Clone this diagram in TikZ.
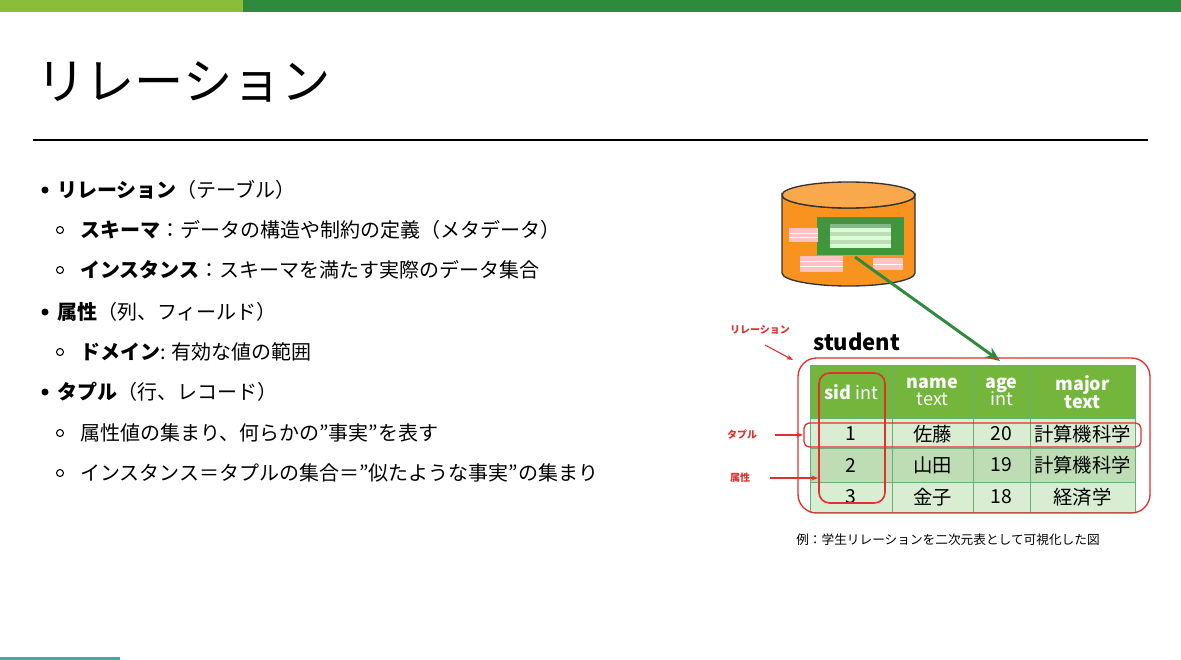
\documentclass[tikz,border=0pt]{standalone}
\usepackage{fontspec}
\setmainfont{Noto Sans CJK JP}
\usetikzlibrary{arrows.meta}
\definecolor{lg}{HTML}{8CBD3A}
\definecolor{dg}{HTML}{2E8B3E}
\definecolor{hdr}{HTML}{74B53C}
\definecolor{r1}{HTML}{D9EDD3}
\definecolor{r2}{HTML}{BEDDB4}
\definecolor{org}{HTML}{F7931E}
\definecolor{rd}{HTML}{E03030}
\begin{document}
\begin{tikzpicture}[x=0.75pt,y=-0.75pt,
  bt/.style={anchor=west,font=\fontsize{15}{17}\selectfont,inner sep=0},
  hd/.style={font=\fontsize{13.5}{14}\selectfont\bfseries,text=white,align=center},
  cl/.style={font=\fontsize{14.5}{16}\selectfont},
  rl/.style={font=\fontsize{7.5}{9}\selectfont\bfseries,text=rd},
  ra/.style={draw=rd,-{Stealth[length=5pt]},line width=0.8pt}]
\useasboundingbox (0,0) rectangle (1181,660);
\fill[lg] (0,0) rectangle (243,12);
\fill[dg] (243,0) rectangle (1181,12);
\fill[teal!70] (0,657) rectangle (120,660);
\node[anchor=west,inner sep=0,font=\fontsize{37}{40}\selectfont] (title) at (36,82) {リレーション};
\draw[line width=1.5pt] (33,140) -- (1148,140);
% bullets
\foreach \y/\t in {190/{\textbf{リレーション}（テーブル）},312/{\textbf{属性}（列、フィールド）},392/{\textbf{タプル}（行、レコード）}}{
  \fill (45,\y) circle (3.5);
  \node[bt] at (57,\y) {\t};}
\foreach \y/\t in {230/{\textbf{スキーマ}：データの構造や制約の定義（メタデータ）},270/{\textbf{インスタンス}：スキーマを満たす実際のデータ集合},352/{\textbf{ドメイン}: 有効な値の範囲},433/{属性値の集まり、何らかの”事実”を表す},473/{インスタンス＝タプルの集合＝”似たような事実”の集まり}}{
  \draw[line width=0.8pt] (60,\y) circle (3.5);
  \node[bt] at (80,\y) {\t};}
% cylinder
\fill[org,draw=black!80,line width=1pt] (782,195) -- (782,273) arc[start angle=180,end angle=0,x radius=66.5,y radius=13] -- (915,195) arc[start angle=0,end angle=180,x radius=66.5,y radius=13] -- cycle;
\draw[black!80,line width=1pt,fill=org!80] (848.5,195) ellipse[x radius=66.5,y radius=13];
\node[fill=dg!80!lg,minimum width=65,minimum height=28,inner sep=0] (mini) at (860.5,236) {};
\fill[white!85!green] (830,224) rectangle (891,248);
\fill[dg!60] (830,224) rectangle (891,228);
\foreach \yy in {232,240} \fill[r2] (830,\yy) rectangle (891,\yy+4);
\fill[pink!80!red!60] (789,228) rectangle (818,242);
\fill[pink!80!red!60] (800,256) rectangle (843,272);
\fill[pink!80!red!60] (873,258) rectangle (903,270);
\foreach \yy in {233,237} \draw[white] (789,\yy) -- (818,\yy);
\foreach \yy in {261,266} \draw[white] (800,\yy) -- (843,\yy);
\draw[white] (873,264) -- (903,264);
% table
\fill[hdr] (810,365) rectangle (1135,418);
\fill[r1] (810,418) rectangle (1135,448);
\fill[r2] (810,448) rectangle (1135,482);
\fill[r1] (810,482) rectangle (1135,512);
\foreach \x in {892,973,1030} \draw[dg!70,line width=0.6pt] (\x,365) -- (\x,512);
\foreach \yy in {418,448,482} \draw[dg!70,line width=0.6pt] (810,\yy) -- (1135,\yy);
\draw[dg!70,line width=0.6pt] (810,365) rectangle (1135,512);
\node[hd] at (851,392) {sid \mdseries int};
\node[hd] at (932.5,392) {name\\[-1pt]\mdseries text};
\node[hd] at (1001.5,392) {age\\[-1pt]\mdseries int};
\node[hd] at (1082.5,392) {major\\[-1pt]text};
\foreach \yy/\a/\b/\c/\d in {434/1/佐藤/20/計算機科学,465/2/山田/19/計算機科学,497/3/金子/18/経済学}{
  \node[cl] at (851,\yy) {\a};
  \node[cl] at (932.5,\yy) {\b};
  \node[cl] at (1001.5,\yy) {\c};
  \node[cl] at (1082.5,\yy) {\d};}
\node[anchor=west,inner sep=0,font=\fontsize{16.5}{18}\selectfont\bfseries] (student) at (813,342) {student};
\coordinate (tabtop) at (1000,361);
\coordinate (cylsrc) at (855,257);
\draw[dg,line width=2.2pt,-{Stealth[length=11pt,width=9pt]}] (cylsrc) -- (tabtop);
% red boxes
\draw[rd,line width=1pt,rounded corners=14] (798,358) rectangle (1150,513);
\draw[rd,line width=1pt,rounded corners=4] (804,423) rectangle (1141,447);
\draw[rd,line width=1.2pt,rounded corners=8] (819,373) rectangle (885,503);
\node[rl] (lrel) at (760,330) {リレーション};
\node[rl] (ltup) at (742,435) {タプル};
\node[rl] (lattr) at (740,478) {属性};
\draw[ra] (765,345) -- (793,360);
\draw[ra] (775,435) -- (803,435);
\draw[ra] (770,478) -- (818,478);
\node[font=\fontsize{9.5}{11}\selectfont] (cap) at (948,540) {例：学生リレーションを二次元表として可視化した図};
\end{tikzpicture}
\end{document}
